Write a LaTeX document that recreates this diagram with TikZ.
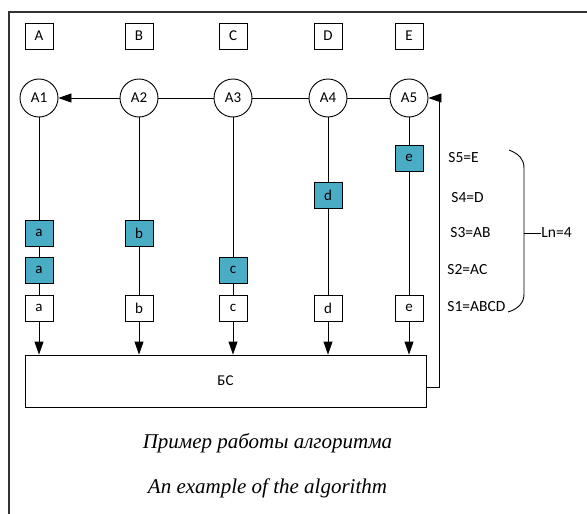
\documentclass[tikz,border=0pt]{standalone}
\usepackage{fontspec}
\setmainfont{Carlito}
\newfontfamily\pie{Liberation Serif}
\usepackage{tikz}
\usetikzlibrary{arrows.meta, positioning}
\definecolor{celeste}{HTML}{4BACC6}

\begin{document}
\begin{tikzpicture}[x=1pt, y=-1pt, line width=0.9pt,
    caja/.style={draw, fill=white, minimum width=28pt, minimum height=26pt, inner sep=0pt, font=\fontsize{15}{18}\selectfont},
    marca/.style={caja, fill=celeste},
    agente/.style={draw, circle, fill=white, minimum size=38pt, inner sep=0pt, font=\fontsize{15}{18}\selectfont},
    flecha/.style={-{Triangle[length=13pt, width=9pt]}},
    texto/.style={anchor=west, inner sep=0pt, font=\fontsize{15.5}{18}\selectfont}]
    \useasboundingbox (0,0) rectangle (587,514);

    % Marco
    \draw[line width=1.2pt, black!80] (9,514) -- (9,12) -- (587,12);

    % Letras y agentes
    \foreach \n/\x in {A/39, B/139, C/233, D/328, E/409}
        \node[caja] (\n) at (\x,36) {\n};
    \foreach \i/\x in {1/39, 2/139, 3/233, 4/328, 5/409}
        \node[agente] (A\i) at (\x,98) {A\i};

    % Bloques
    \foreach \l/\x in {a/39, b/139, c/233, d/328, e/409}
        \node[caja] (\l0) at (\x,308) {\l};
    \node[marca] (a1) at (39,233) {a};
    \node[marca] (a2) at (39,270) {a};
    \node[marca] (b1) at (139,233) {b};
    \node[marca] (c1) at (233,270) {c};
    \node[marca] (d1) at (328,195) {d};
    \node[marca] (e1) at (409,158) {e};

    \node[draw, minimum width=401pt, minimum height=52pt, inner sep=0pt,
          font=\fontsize{15}{18}\selectfont] (BS) at (225.5,381) {БС};

    % Cadena de agentes
    \draw (A5) -- (A4);
    \draw (A4) -- (A3);
    \draw (A3) -- (A2);
    \draw[flecha] (A2) -- (A1);

    % Columnas
    \draw (A1) -- (a1);
    \draw (a1) -- (a2);
    \draw (a2) -- (a0);
    \draw (A2) -- (b1);
    \draw (b1) -- (b0);
    \draw (A3) -- (c1);
    \draw (c1) -- (c0);
    \draw (A4) -- (d1);
    \draw (d1) -- (d0);
    \draw (A5) -- (e1);
    \draw (e1) -- (e0);
    \foreach \l in {a, b, c, d, e}
        \draw[flecha] (\l0) -- (\l0 |- BS.north);

    % Retorno
    \draw[flecha] ([yshift=-6pt]BS.east) -- ++(13,0) |- (A5);

    % Conjuntos
    \node[texto] (s5) at (448,158) {S5=E};
    \node[texto] (s4) at (451,198) {S4=D};
    \node[texto] (s3) at (450,233) {S3=AB};
    \node[texto] (s2) at (447,270) {S2=AC};
    \node[texto] (s1) at (447,307) {S1=ABCD};

    % Llave
    \draw (509,150) .. controls (519,154) and (524,159) .. (524,168)
        -- (524,294) .. controls (524,303) and (518,309) .. (508,312);
    \coordinate (llave) at (524,233);
    \node[texto] (ln) at (541,233) {Ln=4};
    \draw (llave) -- (ln);

    % Pie
    \node[font=\pie\itshape\fontsize{21}{24}\selectfont] (ru) at (267.5,443) {Пример работы алгоритма};
    \node[font=\pie\itshape\fontsize{21}{24}\selectfont] (en) at (267.5,488) {An example of the algorithm};
\end{tikzpicture}
\end{document}
